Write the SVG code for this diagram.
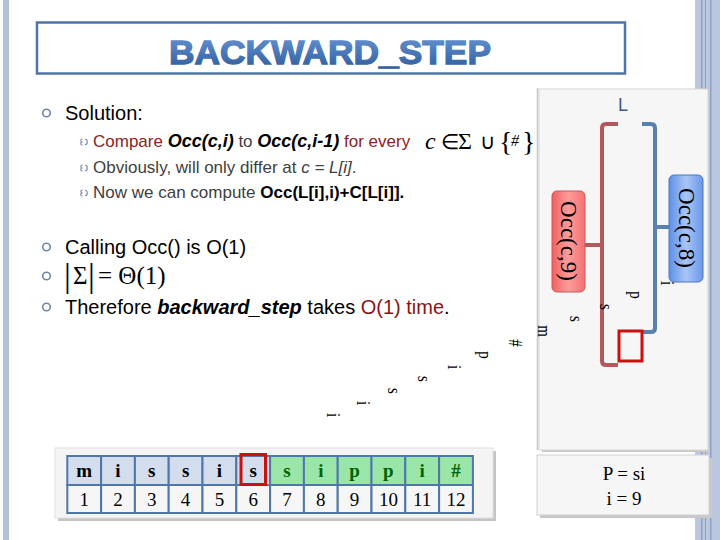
<svg xmlns="http://www.w3.org/2000/svg" width="720" height="540" viewBox="0 0 720 540">
<defs>
<linearGradient id="gTitle" x1="0" y1="0" x2="0" y2="1"><stop offset="0" stop-color="#6A96D6"/><stop offset="1" stop-color="#2D5A9A"/></linearGradient>
<linearGradient id="gRed" x1="0" y1="0" x2="1" y2="0"><stop offset="0" stop-color="#F06060"/><stop offset="0.5" stop-color="#FF9C9C"/><stop offset="1" stop-color="#F47070"/></linearGradient>
<linearGradient id="gBlue" x1="0" y1="0" x2="1" y2="0"><stop offset="0" stop-color="#5E8FE6"/><stop offset="0.5" stop-color="#A9C5F6"/><stop offset="1" stop-color="#6A98E8"/></linearGradient>
<style>
.sans{font-family:"Liberation Sans",Arial,sans-serif}
.serif{font-family:"Liberation Serif","Times New Roman",serif}
.main{font-size:20px;fill:#000}
.sub{font-size:17px;fill:#404040}
.bul{fill:none;stroke:#6F86A8;stroke-width:1.6}
.sb{fill:none;stroke:#7A8AA0;stroke-width:1.1}
.rl{font-family:"Liberation Serif",serif;font-size:15px;fill:#000}
.cell{stroke:#4F77A8;stroke-width:2}
.ct{font-family:"Liberation Serif",serif;font-size:19px;text-anchor:middle}
.br{fill:none;stroke-width:4;stroke-linejoin:round}
</style>
</defs>
<rect width="720" height="540" fill="#FFFFFF"/>
<!-- side decorations -->
<rect x="3" y="0" width="6" height="540" fill="#B3C1D9"/>
<rect x="695" y="0" width="25" height="540" fill="#BAC7DE"/>
<rect x="701" y="0" width="1.5" height="540" fill="#8EA2C6"/>
<rect x="705" y="0" width="1" height="540" fill="#8EA2C6"/>
<rect x="710" y="0" width="1.5" height="540" fill="#8EA2C6"/>
<!-- title -->
<g id="title">
<rect x="37" y="22.5" width="588" height="51" fill="#FFFFFF" stroke="#4F74A8" stroke-width="2.5"/>
<text x="330" y="64" text-anchor="middle" class="sans" font-size="34" font-weight="bold" fill="url(#gTitle)" stroke="url(#gTitle)" stroke-width="1.3" textLength="322" lengthAdjust="spacingAndGlyphs">BACKWARD_STEP</text>
</g>
<!-- text content -->
<g id="bullets">
<circle cx="46.5" cy="113" r="3.8" class="bul"/>
<circle cx="46.5" cy="247" r="3.8" class="bul"/>
<circle cx="46.5" cy="276" r="3.8" class="bul"/>
<circle cx="46.5" cy="307" r="3.8" class="bul"/>
<g id="subbullets">
<path d="M82.5,139 a1.7,1.5 0 1 0 0,3 a1.8,1.6 0 1 0 0,3.2 M85,139.3 a2.2,2.6 0 1 1 0,5.4 a2.2,2.6 0 1 0 0,-5.4" class="sb"/>
<path d="M82.5,165 a1.7,1.5 0 1 0 0,3 a1.8,1.6 0 1 0 0,3.2 M85,165.3 a2.2,2.6 0 1 1 0,5.4 a2.2,2.6 0 1 0 0,-5.4" class="sb"/>
<path d="M82.5,190 a1.7,1.5 0 1 0 0,3 a1.8,1.6 0 1 0 0,3.2 M85,190.3 a2.2,2.6 0 1 1 0,5.4 a2.2,2.6 0 1 0 0,-5.4" class="sb"/>
</g>
</g>
<g id="text">
<text x="65" y="120" class="sans main">Solution:</text>
<text x="93" y="147" class="sans sub"><tspan fill="#8B2323">Compare </tspan><tspan font-size="18" font-weight="bold" font-style="italic" fill="#000">Occ(c,i)</tspan> to <tspan font-size="18" font-weight="bold" font-style="italic" fill="#000">Occ(c,i-1)</tspan><tspan fill="#8B2323"> for every</tspan></text>
<text class="serif" y="149" font-size="24" fill="#000"><tspan x="425" font-style="italic">c</tspan><tspan x="441" font-size="21">∈</tspan><tspan x="458">Σ</tspan><tspan x="480" font-size="21">∪</tspan><tspan x="499" font-size="28" y="151">{</tspan><tspan x="511" font-size="16" font-style="italic" y="146">#</tspan><tspan x="522" font-size="28" y="151">}</tspan></text>
<text x="93" y="173" class="sans sub">Obviously, will only differ at  <tspan font-style="italic">c = L[i]</tspan>.</text>
<text x="93" y="198" class="sans sub">Now we can compute <tspan font-weight="bold" fill="#000">Occ(L[i],i)+C[L[i]].</tspan></text>
<text x="65" y="254" class="sans main">Calling Occ() is O(1)</text>
<text class="serif" y="284" font-size="25" fill="#000"><tspan x="64" font-size="34" y="287">|</tspan><tspan x="73" y="284">Σ</tspan><tspan x="88" font-size="34" y="287">|</tspan><tspan x="98" y="284">= Θ(1)</tspan></text>
<text x="65" y="314" class="sans main">Therefore <tspan font-weight="bold" font-style="italic">backward_step</tspan> takes <tspan fill="#8B1515">O(1) time</tspan>.</text>
</g>
<!-- right panel -->
<g id="panel">
<rect x="542" y="92" width="168" height="360" fill="#C8C8C8"/>
<rect x="539" y="89" width="169" height="361" fill="#F6F6F6" stroke="#D6D6D6" stroke-width="1"/>
<line x1="537.5" y1="88" x2="537.5" y2="450" stroke="#C8C8C8" stroke-width="1.5"/>
<rect x="540" y="458" width="172" height="60" fill="#C8C8C8"/>
<rect x="537" y="455" width="172" height="60" fill="#F6F6F6" stroke="#D0D0D0" stroke-width="1"/>
<text x="623" y="111" class="sans" font-size="18" fill="#3B5A82" text-anchor="middle">L</text>
<text x="624" y="480" class="serif" font-size="19" fill="#000" text-anchor="middle">P = si</text>
<text x="624" y="505" class="serif" font-size="19" fill="#000" text-anchor="middle">i = 9</text>
</g>
<g id="connectors">
<path d="M618,124 H606 Q602,124 602,128 V361 Q602,365 606,365 H618" class="br" stroke="#B05A5E"/>
<line x1="585" y1="245" x2="602" y2="245" class="br" stroke="#B05A5E"/>
<path d="M642,124 H651 Q655,124 655,128 V328 Q655,332 651,332 H642" class="br" stroke="#5A80B0"/>
<line x1="655" y1="227" x2="670" y2="227" class="br" stroke="#5A80B0"/>
</g>
<g id="occ9">
<rect x="552" y="191" width="33" height="101" rx="5" fill="url(#gRed)" stroke="#C45A5A" stroke-width="1"/>
<text transform="translate(568.5,241) rotate(90)" class="serif" font-size="23" text-anchor="middle" dominant-baseline="central" fill="#000">Occ(c,9)</text>
</g>
<g id="occ8">
<rect x="669" y="175" width="34" height="107" rx="5" fill="url(#gBlue)" stroke="#4A78C8" stroke-width="1"/>
<text transform="translate(686,228) rotate(90)" class="serif" font-size="23" text-anchor="middle" dominant-baseline="central" fill="#000">Occ(c,8)</text>
</g>
<rect id="marker" x="619" y="331" width="23" height="30" fill="none" stroke="#CC1010" stroke-width="3"/>
<!-- rotated L letters -->
<g id="rotated">
<text transform="translate(667,283) rotate(90) scale(1,1.3)" class="rl" text-anchor="middle" dominant-baseline="central">i</text>
<text transform="translate(636,295) rotate(90) scale(1,1.3)" class="rl" text-anchor="middle" dominant-baseline="central">p</text>
<text transform="translate(606,307) rotate(90) scale(1,1.3)" class="rl" text-anchor="middle" dominant-baseline="central">s</text>
<text transform="translate(576,319) rotate(90) scale(1,1.3)" class="rl" text-anchor="middle" dominant-baseline="central">s</text>
<text transform="translate(544,331) rotate(90) scale(1,1.3)" class="rl" text-anchor="middle" dominant-baseline="central">m</text>
<text transform="translate(515,343) rotate(90) scale(1,1.3)" class="rl" text-anchor="middle" dominant-baseline="central">#</text>
<text transform="translate(485,355) rotate(90) scale(1,1.3)" class="rl" text-anchor="middle" dominant-baseline="central">p</text>
<text transform="translate(454,367) rotate(90) scale(1,1.3)" class="rl" text-anchor="middle" dominant-baseline="central">i</text>
<text transform="translate(424,379) rotate(90) scale(1,1.3)" class="rl" text-anchor="middle" dominant-baseline="central">s</text>
<text transform="translate(394,391) rotate(90) scale(1,1.3)" class="rl" text-anchor="middle" dominant-baseline="central">s</text>
<text transform="translate(363,403) rotate(90) scale(1,1.3)" class="rl" text-anchor="middle" dominant-baseline="central">i</text>
<text transform="translate(333,415) rotate(90) scale(1,1.3)" class="rl" text-anchor="middle" dominant-baseline="central">i</text>
</g>
<!-- table -->
<g id="table">
<rect x="58" y="451" width="438" height="70" fill="#C4C4C4"/>
<rect x="55" y="448" width="438" height="70" fill="#F4F4F4" stroke="#E0E0E0" stroke-width="1"/>
<g class="cell">
<rect x="67.3" y="456" width="33.8" height="29" fill="#D3DDEE"/>
<rect x="101.1" y="456" width="33.8" height="29" fill="#D3DDEE"/>
<rect x="134.9" y="456" width="33.8" height="29" fill="#D3DDEE"/>
<rect x="168.7" y="456" width="33.8" height="29" fill="#D3DDEE"/>
<rect x="202.5" y="456" width="33.8" height="29" fill="#D3DDEE"/>
<rect x="236.3" y="456" width="33.8" height="29" fill="#D3DDEE"/>
<rect x="270.1" y="456" width="33.8" height="29" fill="#99E6A8"/>
<rect x="303.9" y="456" width="33.8" height="29" fill="#99E6A8"/>
<rect x="337.7" y="456" width="33.8" height="29" fill="#99E6A8"/>
<rect x="371.5" y="456" width="33.8" height="29" fill="#99E6A8"/>
<rect x="405.3" y="456" width="33.8" height="29" fill="#99E6A8"/>
<rect x="439.1" y="456" width="33.8" height="29" fill="#99E6A8"/>
<rect x="67.3" y="485" width="33.8" height="28" fill="#F6F6F6"/>
<rect x="101.1" y="485" width="33.8" height="28" fill="#F6F6F6"/>
<rect x="134.9" y="485" width="33.8" height="28" fill="#F6F6F6"/>
<rect x="168.7" y="485" width="33.8" height="28" fill="#F6F6F6"/>
<rect x="202.5" y="485" width="33.8" height="28" fill="#F6F6F6"/>
<rect x="236.3" y="485" width="33.8" height="28" fill="#F6F6F6"/>
<rect x="270.1" y="485" width="33.8" height="28" fill="#F6F6F6"/>
<rect x="303.9" y="485" width="33.8" height="28" fill="#F6F6F6"/>
<rect x="337.7" y="485" width="33.8" height="28" fill="#F6F6F6"/>
<rect x="371.5" y="485" width="33.8" height="28" fill="#F6F6F6"/>
<rect x="405.3" y="485" width="33.8" height="28" fill="#F6F6F6"/>
<rect x="439.1" y="485" width="33.8" height="28" fill="#F6F6F6"/>
</g>
<g class="ct" font-weight="bold">
<text x="84.2" y="477" fill="#000">m</text>
<text x="118" y="477" fill="#000">i</text>
<text x="151.8" y="477" fill="#000">s</text>
<text x="185.6" y="477" fill="#000">s</text>
<text x="219.4" y="477" fill="#000">i</text>
<text x="253.2" y="477" fill="#000">s</text>
<text x="287" y="477" fill="#006400">s</text>
<text x="320.8" y="477" fill="#006400">i</text>
<text x="354.6" y="477" fill="#006400">p</text>
<text x="388.4" y="477" fill="#006400">p</text>
<text x="422.2" y="477" fill="#006400">i</text>
<text x="456" y="477" fill="#006400">#</text>
</g>
<g class="ct" fill="#000">
<text x="84.2" y="506">1</text>
<text x="118" y="506">2</text>
<text x="151.8" y="506">3</text>
<text x="185.6" y="506">4</text>
<text x="219.4" y="506">5</text>
<text x="253.2" y="506">6</text>
<text x="287" y="506">7</text>
<text x="320.8" y="506">8</text>
<text x="354.6" y="506">9</text>
<text x="388.4" y="506">10</text>
<text x="422.2" y="506">11</text>
<text x="456" y="506">12</text>
</g>
<rect x="241" y="454.5" width="24.5" height="30" fill="none" stroke="#CC1010" stroke-width="3"/>
</g>
</svg>
